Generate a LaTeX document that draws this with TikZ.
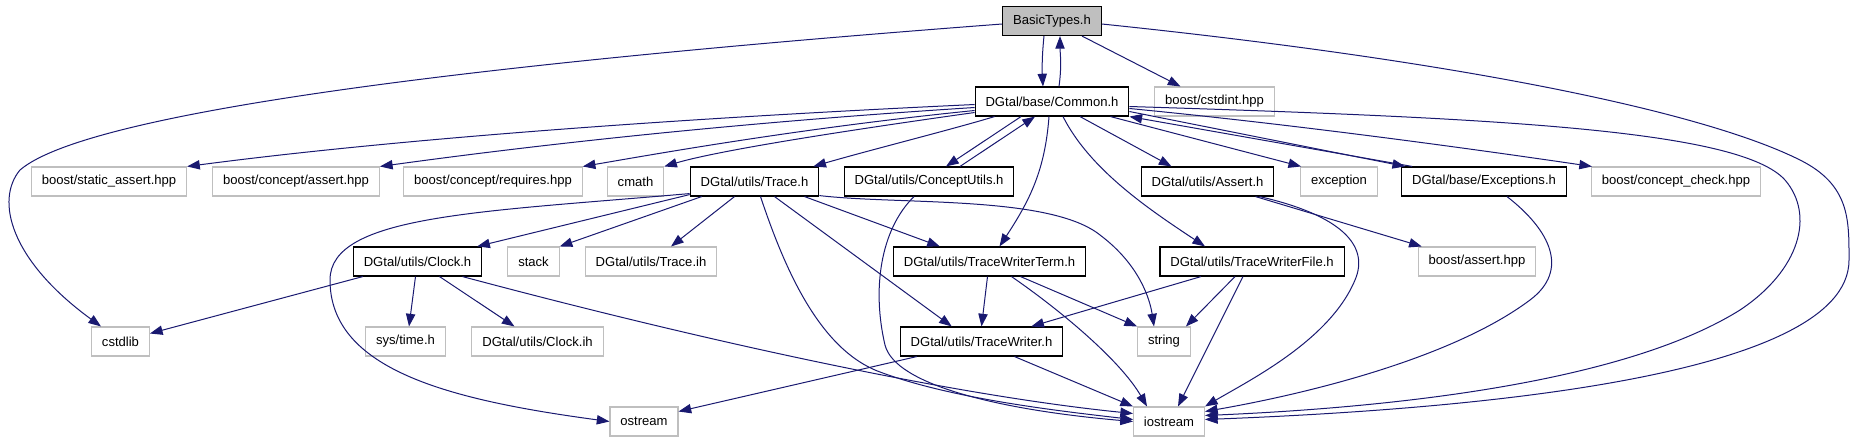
\documentclass[tikz,border=0pt]{standalone}
\usepackage{fontspec}
\setmainfont{Liberation Sans}
\usetikzlibrary{arrows.meta,calc}
\definecolor{edgeblue}{HTML}{191970}
\definecolor{boxgray}{HTML}{BFBFBF}

\begin{document}
\begin{tikzpicture}[
    x=0.75pt, y=-0.75pt,
    font=\fontsize{9.8}{12}\selectfont,
    box/.style={
        draw=boxgray,
        line width=0.8pt,
        fill=white,
        minimum height=21.75pt,
        inner xsep=7.8pt,
        inner ysep=0pt
    },
    doc/.style={box, draw=black, line width=0.85pt},
    cur/.style={doc, fill=boxgray},
    arr/.style={-{Triangle[length=9.5pt,width=7pt]}, edgeblue, line width=0.75pt}
]
\useasboundingbox (0,0) rectangle (1855,443);

% top: the file itself and Common.h
\node[cur] (basic) at (1052,21) {BasicTypes.h};
\node[doc] (common) at (1052,101.5) {DGtal/base/Common.h};
\node[box] (cstdint) at (1214.5,101.5) {boost/cstdint.hpp};

% second row
\node[box] (sassert) at (109,181.5) {boost/static\_assert.hpp};
\node[box] (cassert) at (296,181.5) {boost/concept/assert.hpp};
\node[box] (crequires) at (493,181.5) {boost/concept/requires.hpp};
\node[box] (cmath) at (635.5,181.5) {cmath};
\node[doc] (trace) at (754.5,181.5) {DGtal/utils/Trace.h};
\node[doc] (concept) at (929,181.5) {DGtal/utils/ConceptUtils.h};
\node[doc] (assert) at (1207.5,181.5) {DGtal/utils/Assert.h};
\node[box] (exception) at (1339,181.5) {exception};
\node[doc] (exceptions) at (1484,181.5) {DGtal/base/Exceptions.h};
\node[box] (ccheck) at (1676,181.5) {boost/concept\_check.hpp};

% third row
\node[doc] (clock) at (417.5,261.5) {DGtal/utils/Clock.h};
\node[box] (stack) at (533.5,261.5) {stack};
\node[box] (traceih) at (651,261.5) {DGtal/utils/Trace.ih};
\node[doc] (wterm) at (989.5,261.5) {DGtal/utils/TraceWriterTerm.h};
\node[doc] (wfile) at (1252,261.5) {DGtal/utils/TraceWriterFile.h};
\node[box] (bassert) at (1477,261.5) {boost/assert.hpp};

% fourth row
\node[box] (cstdlib) at (120.5,341.5) {cstdlib};
\node[box] (systime) at (405.5,341.5) {sys/time.h};
\node[box] (clockih) at (537.5,341.5) {DGtal/utils/Clock.ih};
\node[doc] (writer) at (981.5,341.5) {DGtal/utils/TraceWriter.h};
\node[box] (string) at (1164,341.5) {string};

% bottom row
\node[box] (ostream) at (644,421.5) {ostream};
\node[box] (iostream) at (1169,421.5) {iostream};

% BasicTypes.h
\draw[arr] ($(basic.south)+(-8,0)$) .. controls (1042,55) and (1042,70) .. ($(common.north)+(-9,0)$);
\draw[arr] ($(common.north)+(7,0)$) .. controls (1062,65) and (1060,52) .. ($(basic.south)+(8,0)$);
\draw[arr] ($(basic.south)+(30,0)$) -- ($(cstdint.north)+(-34,0)$);
\draw[arr] ($(basic.west)+(0,3)$) .. controls (500,62) and (90,110) .. (20,170)
    .. controls (-5,200) and (10,260) .. ($(cstdlib.north west)+(10,0)$);
\draw[arr] ($(basic.east)+(0,3)$) .. controls (1450,60) and (1700,110) .. (1800,160)
    .. controls (1850,185) and (1849,220) .. (1849,260)
    .. controls (1849,380) and (1450,410) .. ($(iostream.east)+(0,-2)$);

% Common.h
\draw[arr] ($(common.west)+(0,3)$) .. controls (600,122) and (350,145) .. (sassert.north east);
\draw[arr] ($(common.west)+(0,6)$) .. controls (700,125) and (500,150) .. (cassert.north east);
\draw[arr] ($(common.west)+(0,9)$) .. controls (800,128) and (650,155) .. (crequires.north east);
\draw[arr] ($(common.west)+(0,11)$) .. controls (850,130) and (720,150) .. (cmath.north east);
\draw[arr] ($(common.south west)+(20,0)$) .. controls (950,130) and (870,150) .. ($(trace.north east)+(-6,0)$);
\draw[arr] ($(common.south)+(-31,0)$) -- ($(concept.north)+(17,0)$);
\draw[arr] ($(concept.north)+(31,0)$) -- ($(common.south)+(-17,0)$);
\draw[arr] ($(common.south)+(-3,0)$) .. controls (1045,170) and (1030,200) .. ($(wterm.north)+(10,0)$);
\draw[arr] ($(common.south)+(11,0)$) .. controls (1090,170) and (1150,210) .. ($(wfile.north)+(-47,0)$);
\draw[arr] ($(common.south)+(28,0)$) -- ($(assert.north)+(-36,0)$);
\draw[arr] ($(common.south east)+(-19,0)$) -- ($(exception.north west)+(1,0)$);
\draw[arr] ($(common.east)+(0,10)$) -- ($(exceptions.north west)+(4,0)$);
\draw[arr] ($(exceptions.north west)+(11,0)$) -- (common.south east);
\draw[arr] ($(common.east)+(0,7)$) .. controls (1300,125) and (1480,150) .. ($(ccheck.north west)+(1,0)$);
\draw[arr] ($(common.east)+(0,5)$) .. controls (1500,118) and (1740,130) .. (1785,180)
    .. controls (1815,215) and (1800,270) .. (1740,310)
    .. controls (1620,385) and (1380,408) .. ($(iostream.east)+(0,-6)$);

% Exceptions.h and Assert.h
\draw[arr] ($(exceptions.south)+(23,0)$) .. controls (1550,230) and (1570,270) .. (1530,300)
    .. controls (1450,360) and (1300,395) .. ($(iostream.east)+(0,-10)$);
\draw[arr] ($(assert.south)+(48,0)$) -- ($(bassert.north west)+(4,0)$);
\draw[arr] ($(assert.south)+(52,0)$) .. controls (1340,215) and (1370,245) .. (1355,280)
    .. controls (1330,340) and (1250,380) .. (iostream.north east);

% Trace.h
\draw[arr] ($(trace.south west)+(0,-2)$) -- ($(clock.north east)+(-5,0)$);
\draw[arr] ($(trace.south west)+(12,0)$) -- (stack.north east);
\draw[arr] ($(trace.south west)+(0,-3)$) .. controls (480,212) and (330,215) .. (330,280)
    .. controls (330,370) and (450,400) .. (ostream.west);
\draw[arr] ($(trace.south)+(-20,0)$) -- ($(traceih.north)+(20,0)$);
\draw[arr] ($(trace.south)+(6,0)$) .. controls (785,270) and (820,350) .. (880,372)
    .. controls (950,398) and (1050,410) .. ($(iostream.west)+(0,-2)$);
\draw[arr] ($(trace.south)+(50,0)$) -- ($(wterm.north west)+(47,0)$);
\draw[arr] ($(trace.south)+(20,0)$) -- ($(writer.north west)+(52,0)$);
\draw[arr] ($(trace.south east)+(0,-1)$) .. controls (900,205) and (1050,195) .. (1100,235)
    .. controls (1140,265) and (1150,300) .. ($(string.north)+(-10,0)$);

% ConceptUtils.h
\draw[arr] ($(concept.south)+(-15,0)$) .. controls (880,230) and (872,290) .. (885,345)
    .. controls (895,385) and (1000,410) .. (iostream.west);

% Clock.h
\draw[arr] ($(clock.south west)+(10,0)$) -- ($(cstdlib.east)+(0,-8)$);
\draw[arr] ($(clock.south)+(-2,0)$) -- ($(systime.north)+(3.5,0)$);
\draw[arr] ($(clock.south)+(22,0)$) -- ($(clockih.north)+(-23,0)$);
\draw[arr] ($(clock.south)+(45,0)$) .. controls (700,340) and (950,395) .. ($(iostream.west)+(0,-8)$);

% TraceWriterTerm.h and TraceWriterFile.h
\draw[arr] ($(wterm.south)+(-2,0)$) -- (writer.north);
\draw[arr] ($(wterm.south)+(31,0)$) -- (string.north west);
\draw[arr] ($(wterm.south)+(22,0)$) .. controls (1060,310) and (1120,360) .. ($(iostream.north west)+(14,0)$);
\draw[arr] ($(wfile.south)+(-51,0)$) -- ($(writer.north east)+(-32,0)$);
\draw[arr] ($(wfile.south)+(-17,0)$) -- ($(string.north east)+(-5,0)$);
\draw[arr] ($(wfile.south)+(-9,0)$) -- ($(iostream.north east)+(-27,0)$);

% TraceWriter.h
\draw[arr] ($(writer.south west)+(17,0)$) -- ($(ostream.east)+(0,-10)$);
\draw[arr] ($(writer.south)+(33,0)$) -- (iostream.north west);

\end{tikzpicture}
\end{document}
